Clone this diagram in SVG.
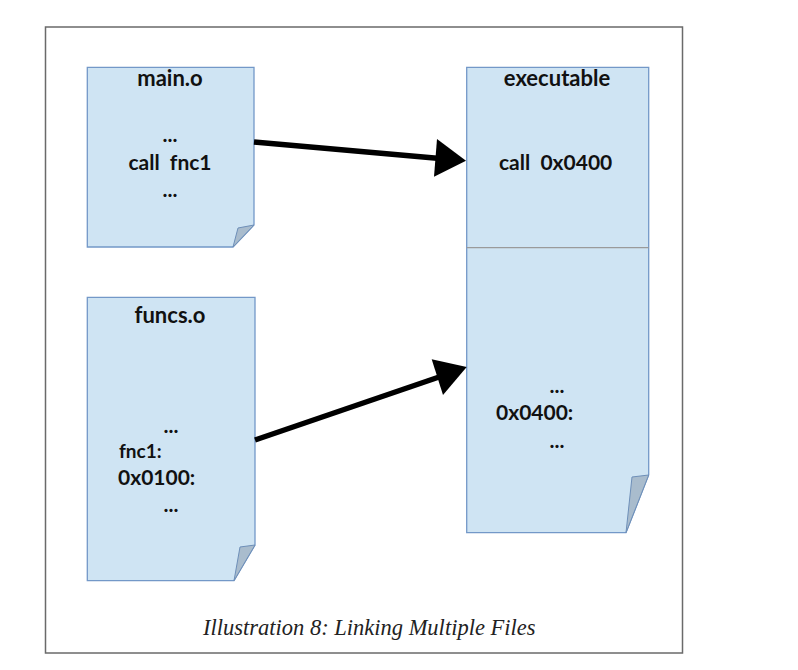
<svg xmlns="http://www.w3.org/2000/svg" width="798" height="670" viewBox="0 0 798 670">
<style>
.page{fill:#cfe4f3;stroke:#7398c8;stroke-width:1.3}
.fold{fill:#a9bccd;stroke:#6e8fb8;stroke-width:1}
.t{font-family:Lato,"Open Sans",sans-serif;font-weight:bold;font-size:21px;fill:#111}
.h{font-size:22px}
.c{text-anchor:middle}
.cap{font-family:"Liberation Serif",serif;font-style:italic;font-size:22.5px;fill:#222}
.arr{stroke:#000;stroke-width:5.5;fill:none}
</style>
<rect width="798" height="670" fill="#fff"/>
<rect x="45.5" y="27" width="637" height="626" fill="#fff" stroke="#6a6a6a" stroke-width="1.5"/>
<g id="main_o">
<path class="page" d="M87.3,67.3 H254 V225 L233,247 H87.3 Z"/>
<path class="fold" d="M254,225 L238,228 L233,247 Z"/>
<text class="t h c" x="170" y="86">main.o</text>
<text class="t c" x="170" y="142">...</text>
<text class="t c" x="170" y="170" xml:space="preserve">call  fnc1</text>
<text class="t c" x="170" y="197">...</text>
</g>
<g id="funcs_o">
<path class="page" d="M87.3,297.3 H255 V545 L234,580.7 H87.3 Z"/>
<path class="fold" d="M255,545 L240,547 L234,580.7 Z"/>
<text class="t h c" x="170" y="322.7">funcs.o</text>
<text class="t c" x="171" y="433">...</text>
<text class="t" x="119" y="458" style="font-size:19px">fnc1:</text>
<text class="t" x="118" y="485">0x0100:</text>
<text class="t c" x="171" y="512">...</text>
</g>
<g id="executable">
<path class="page" d="M466.7,67.3 H648.7 V475 L626,532.7 H466.7 Z"/>
<line x1="466.7" y1="247.7" x2="648.7" y2="247.7" stroke="#9a9a9a" stroke-width="1.3"/>
<path class="fold" d="M648.7,475 L632,477 L626,532.7 Z"/>
<text class="t h c" x="557" y="86">executable</text>
<text class="t" x="499" y="170" xml:space="preserve">call  0x0400</text>
<text class="t c" x="557" y="393">...</text>
<text class="t" x="496" y="420">0x0400:</text>
<text class="t c" x="557" y="448">...</text>
</g>
<g id="connectors">
<line class="arr" x1="254" y1="142" x2="440" y2="158.5"/>
<polygon points="466,160.7 437,139 434,176.7" fill="#000"/>
<line class="arr" x1="255" y1="440" x2="442" y2="376"/>
<polygon points="466.7,367 431.7,359.3 443,395" fill="#000"/>
</g>
<text class="cap" x="203" y="635">Illustration 8: Linking Multiple Files</text>
</svg>
